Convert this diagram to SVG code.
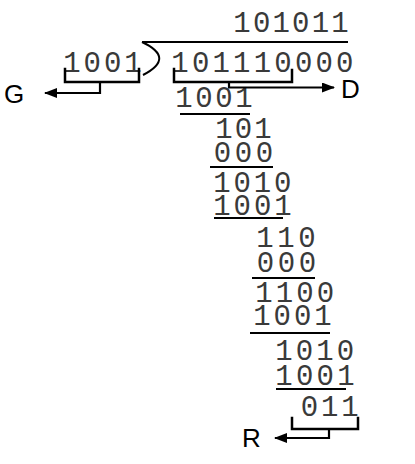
<svg xmlns="http://www.w3.org/2000/svg" width="415" height="464" viewBox="0 0 415 464">
  <style>
    .num { font-family: "Liberation Mono", "Courier New", monospace; font-size: 29px; fill: #3a3a3a; text-anchor: middle; }
    .lbl { font-family: "Liberation Sans", Arial, sans-serif; font-size: 26px; fill: #000; }
    .rule { stroke: #000; stroke-width: 2; fill: none; }
    .brk { stroke: #000; stroke-width: 2.5; fill: none; stroke-linecap: square; }
    .arr { stroke: #000; stroke-width: 2.2; fill: none; }
  </style>
  <defs>
    <marker id="head" markerWidth="14" markerHeight="10" refX="12" refY="5" orient="auto" markerUnits="userSpaceOnUse">
      <polygon points="0,0 13,5 0,10" fill="#000"/>
    </marker>
  </defs>
  <rect width="415" height="464" fill="#fff"/>

  <!-- quotient -->
  <g id="quotient">
    <text class="num" x="242 261.6 281.2 300.8 320.4 340" y="32">101011</text>
  </g>

  <!-- division bracket: overline and curved stroke -->
  <g id="division-sign">
    <path class="rule" d="M142,42 H348"/>
    <path class="rule" d="M142,42 Q176,58 143,75"/>
  </g>

  <g id="divisor">
    <text class="num" x="72 92.3 112.6 133" y="72">1001</text>
  </g>

  <g id="dividend">
    <text class="num" x="180 200.6 221.2 241.8 262.4 283 303.6 324.2 344.8" y="72">101110000</text>
  </g>

  <!-- partial remainders and subtractions -->
  <g id="step1">
    <text class="num" x="184 204 224 244" y="107">1001</text>
    <path class="rule" d="M180,114 H250"/>
  </g>
  <g id="step2">
    <text class="num" x="224 243.5 263" y="138">101</text>
    <text class="num" x="222.5 243.5 264.5" y="162">000</text>
    <path class="rule" d="M210,167 H273"/>
  </g>
  <g id="step3">
    <text class="num" x="222 242.2 262.4 282.6" y="192">1010</text>
    <text class="num" x="222 242.3 262.6 283" y="215">1001</text>
    <path class="rule" d="M214,218 H283"/>
  </g>
  <g id="step4">
    <text class="num" x="265 286 307" y="247">110</text>
    <text class="num" x="265.5 286.5 307.5" y="272">000</text>
    <path class="rule" d="M252,278 H315"/>
  </g>
  <g id="step5">
    <text class="num" x="264 284.5 305 325.5" y="302">1100</text>
    <text class="num" x="262 282.3 302.6 323" y="325">1001</text>
    <path class="rule" d="M250,333 H330"/>
  </g>
  <g id="step6">
    <text class="num" x="284 304.5 325 345.5" y="360">1010</text>
    <text class="num" x="284 304.7 325.3 346" y="385">1001</text>
    <path class="rule" d="M276,389 H346"/>
  </g>
  <g id="remainder">
    <text class="num" x="309.5 329.8 350" y="416">011</text>
  </g>

  <!-- labels -->
  <g id="label-G"><text class="lbl" x="4" y="103">G</text></g>
  <g id="label-D"><text class="lbl" x="341" y="98">D</text></g>
  <g id="label-R"><text class="lbl" x="242" y="447">R</text></g>

  <!-- brackets and arrows -->
  <g id="connectors">
    <path class="brk" d="M65,69 V82 H139 V69"/>
    <path class="arr" d="M100,82 V93 H45" marker-end="url(#head)"/>

    <path class="brk" d="M174,69 V82 H292 V70"/>
    <path class="arr" d="M229,82 V87.5 H334" marker-end="url(#head)"/>

    <path class="brk" d="M292,418 V429 H358 V418"/>
    <path class="arr" d="M329,429 V438 H275" marker-end="url(#head)"/>
  </g>
</svg>
